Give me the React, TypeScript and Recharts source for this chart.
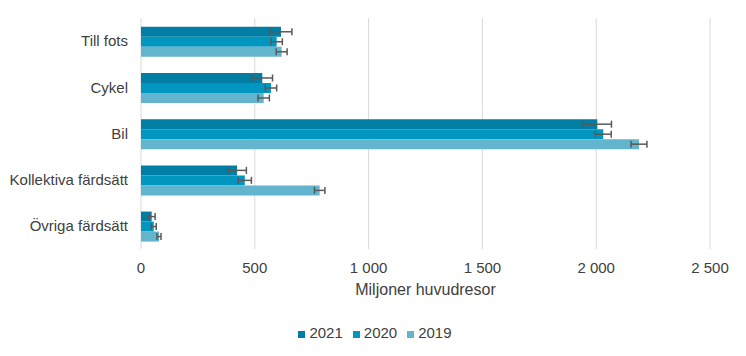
import React from 'react';
import {
  BarChart,
  Bar,
  XAxis,
  YAxis,
  CartesianGrid,
  Legend,
  ErrorBar,
  Label,
} from 'recharts';

// Travel modes and trip volumes (million main trips) with error margins
const categories = ['Till fots', 'Cykel', 'Bil', 'Kollektiva färdsätt', 'Övriga färdsätt'];
const values2021 = [615, 533, 2005, 422, 47];
const values2020 = [596, 571, 2031, 456, 56];
const values2019 = [618, 539, 2188, 785, 79];
const errors2021 = [48, 45, 62, 41, 15];
const errors2020 = [25, 25, 35, 29, 11];
const errors2019 = [24, 25, 35, 23, 9];
const xTicks = [0, 500, 1000, 1500, 2000, 2500];

const chartData = categories.map((name, i) => ({
  name,
  y2021: values2021[i],
  y2020: values2020[i],
  y2019: values2019[i],
  e2021: errors2021[i],
  e2020: errors2020[i],
  e2019: errors2019[i],
}));

const FONT = '"Liberation Sans", Arial, sans-serif';
const TEXT = '#404040';

const formatThousands = (v: number) =>
  String(v).replace(/\B(?=(\d{3})+(?!\d))/g, ' ');

const App: React.FC = () => {
  return (
    <div style={{ position: 'absolute', left: 0, top: 0, fontFamily: FONT }}>
      <BarChart
        width={746}
        height={356}
        data={chartData}
        layout="vertical"
        margin={{ top: 18, right: 36, left: 0, bottom: 15 }}
        barCategoryGap="19%"
        barGap={0}
      >
        <CartesianGrid horizontal={false} stroke="#d9d9d9" />
        <XAxis
          type="number"
          domain={[0, 2500]}
          ticks={xTicks}
          tickFormatter={formatThousands}
          axisLine={false}
          tickLine={false}
          tickMargin={7}
          height={75}
          tick={{ fontSize: 15, fill: TEXT, fontFamily: FONT }}
        >
          <Label
            value="Miljoner huvudresor"
            position="insideBottom"
            offset={29}
            style={{ fontSize: 16, fill: TEXT, fontFamily: FONT }}
          />
        </XAxis>
        <YAxis
          type="category"
          dataKey="name"
          width={141}
          axisLine={false}
          tickLine={false}
          tickMargin={7}
          tick={{ fontSize: 15, fill: TEXT, fontFamily: FONT }}
        />
        <Legend
          verticalAlign="bottom"
          iconType="square"
          iconSize={7}
          itemSorter={(item: any) => -Number(item.value)}
          wrapperStyle={{ fontSize: 15, fontFamily: FONT, left: 25 }}
          formatter={(value) => <span style={{ color: TEXT }}>{value}</span>}
        />
        <Bar dataKey="y2021" name="2021" fill="#007ea3" isAnimationActive={false}>
          <ErrorBar dataKey="e2021" direction="x" width={3.5} stroke="#595959" strokeWidth={1.5} />
        </Bar>
        <Bar dataKey="y2020" name="2020" fill="#0096bf" isAnimationActive={false}>
          <ErrorBar dataKey="e2020" direction="x" width={3.5} stroke="#595959" strokeWidth={1.5} />
        </Bar>
        <Bar dataKey="y2019" name="2019" fill="#63b5ce" isAnimationActive={false}>
          <ErrorBar dataKey="e2019" direction="x" width={3.5} stroke="#595959" strokeWidth={1.5} />
        </Bar>
      </BarChart>
    </div>
  );
};

export default App;
